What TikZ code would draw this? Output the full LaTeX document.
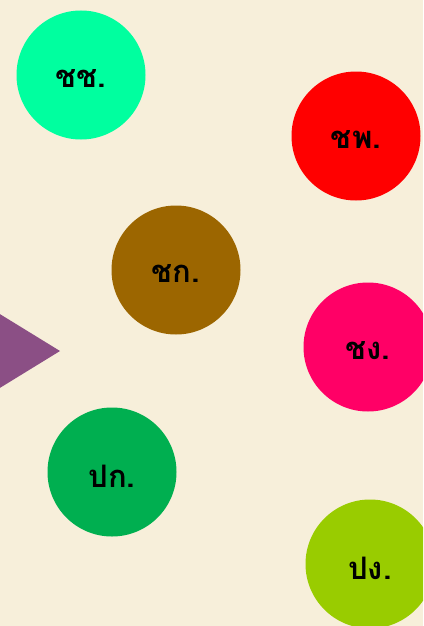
\documentclass[tikz,border=0pt]{standalone}
\usepackage{fontspec}
\newfontfamily\thaifont[Script=Thai]{Loma}
\definecolor{bg}{HTML}{F7EFDA}
\definecolor{cA}{HTML}{00FF9F}
\definecolor{cB}{HTML}{FF0000}
\definecolor{cC}{HTML}{9C6600}
\definecolor{cD}{HTML}{FF0066}
\definecolor{cE}{HTML}{00AF50}
\definecolor{cF}{HTML}{99CC00}
\definecolor{tri}{HTML}{8B4F85}
\begin{document}
\begin{tikzpicture}[x=1pt,y=-1pt,
  blob/.style={circle,fill=#1,minimum size=129pt,inner sep=0pt},
  lbl/.style={font=\thaifont\bfseries\fontsize{31}{31}\selectfont,text=black,yshift=-4pt}]
\fill[bg] (0,0) rectangle (423,626);
\useasboundingbox (0,0) rectangle (423,626);
\begin{scope}
\clip (0,0) rectangle (423,626);
\node[blob=cA] (a) at (81,75) {};
\node[lbl] (ta) at (a) {ชช.};
\node[blob=cB] (b) at (356,136) {};
\node[lbl] (tb) at (b) {ชพ.};
\node[blob=cC] (c) at (176,270) {};
\node[lbl] (tc) at (c) {ชก.};
\node[blob=cD] (d) at (368,347) {};
\node[lbl] (td) at (d) {ชง.};
\node[blob=cE] (e) at (112,472) {};
\node[lbl] (te) at (e) {ปก.};
\node[blob=cF] (f) at (370,564) {};
\node[lbl] (tf) at (f) {ปง.};
\fill[tri] (-10,308) -- (60,351) -- (-10,394) -- cycle;
\end{scope}
\end{tikzpicture}
\end{document}
